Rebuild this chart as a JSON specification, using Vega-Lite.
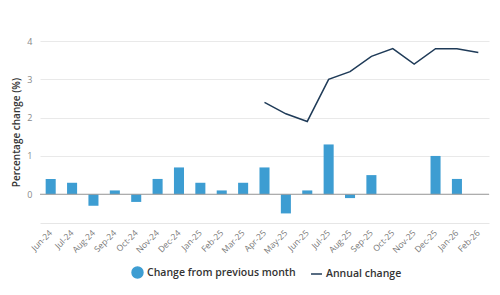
{
  "$schema": "https://vega.github.io/schema/vega-lite/v6.json",
  "width": 449,
  "height": 182,
  "autosize": {"type": "none"},
  "padding": {"left": 40, "top": 41, "right": 11, "bottom": 72},
  "background": "white",
  "config": {
    "font": "Open Sans",
    "view": {"stroke": null}
  },
  "data": {
    "values": [
      {"month": "Jun-24", "series": "Change from previous month", "value": 0.4},
      {"month": "Jul-24", "series": "Change from previous month", "value": 0.3},
      {"month": "Aug-24", "series": "Change from previous month", "value": -0.3},
      {"month": "Sep-24", "series": "Change from previous month", "value": 0.1},
      {"month": "Oct-24", "series": "Change from previous month", "value": -0.2},
      {"month": "Nov-24", "series": "Change from previous month", "value": 0.4},
      {"month": "Dec-24", "series": "Change from previous month", "value": 0.7},
      {"month": "Jan-25", "series": "Change from previous month", "value": 0.3},
      {"month": "Feb-25", "series": "Change from previous month", "value": 0.1},
      {"month": "Mar-25", "series": "Change from previous month", "value": 0.3},
      {"month": "Apr-25", "series": "Change from previous month", "value": 0.7},
      {"month": "May-25", "series": "Change from previous month", "value": -0.5},
      {"month": "Jun-25", "series": "Change from previous month", "value": 0.1},
      {"month": "Jul-25", "series": "Change from previous month", "value": 1.3},
      {"month": "Aug-25", "series": "Change from previous month", "value": -0.1},
      {"month": "Sep-25", "series": "Change from previous month", "value": 0.5},
      {"month": "Oct-25", "series": "Change from previous month", "value": 0},
      {"month": "Nov-25", "series": "Change from previous month", "value": 0},
      {"month": "Dec-25", "series": "Change from previous month", "value": 1.0},
      {"month": "Jan-26", "series": "Change from previous month", "value": 0.4},
      {"month": "Feb-26", "series": "Change from previous month", "value": 0},
      {"month": "Apr-25", "series": "Annual change", "value": 2.4},
      {"month": "May-25", "series": "Annual change", "value": 2.1},
      {"month": "Jun-25", "series": "Annual change", "value": 1.9},
      {"month": "Jul-25", "series": "Annual change", "value": 3.0},
      {"month": "Aug-25", "series": "Annual change", "value": 3.2},
      {"month": "Sep-25", "series": "Annual change", "value": 3.6},
      {"month": "Oct-25", "series": "Annual change", "value": 3.8},
      {"month": "Nov-25", "series": "Annual change", "value": 3.4},
      {"month": "Dec-25", "series": "Annual change", "value": 3.8},
      {"month": "Jan-26", "series": "Annual change", "value": 3.8},
      {"month": "Feb-26", "series": "Annual change", "value": 3.7}
    ]
  },
  "encoding": {
    "x": {
      "field": "month",
      "type": "ordinal",
      "sort": null,
      "scale": {"paddingInner": 0.53, "paddingOuter": 0.265},
      "axis": {
        "title": null,
        "labelAngle": -45,
        "labelAlign": "right",
        "labelBaseline": "middle",
        "labelColor": "#777777",
        "labelFontSize": 8.5,
        "ticks": false,
        "labelPadding": 8,
        "domain": true,
        "domainColor": "#e6e6e6",
        "grid": false
      }
    },
    "y": {
      "field": "value",
      "type": "quantitative",
      "scale": {"domain": [-0.75, 4], "nice": false, "zero": false},
      "axis": {
        "title": "Percentage change (%)",
        "titleColor": "#333333",
        "titleFontSize": 10,
        "titleFontWeight": 600,
        "titlePadding": 5,
        "values": [0, 1, 2, 3, 4],
        "labelColor": "#888888",
        "labelFontSize": 9,
        "labelPadding": 8,
        "ticks": false,
        "domain": false,
        "gridColor": "#e9e9e9"
      }
    },
    "color": {
      "field": "series",
      "type": "nominal",
      "scale": {
        "domain": ["Change from previous month", "Annual change"],
        "range": ["#3d9dd2", "#1f3b58"]
      },
      "legend": {
        "title": null,
        "orient": "none",
        "direction": "horizontal",
        "legendX": 91,
        "legendY": 225,
        "labelFontSize": 10.5,
        "labelFontWeight": 600,
        "labelColor": "#333333",
        "columnPadding": 12,
        "symbolSize": 120,
        "labelOffset": 3,
        "encode": {
          "symbols": {
            "update": {
              "shape": {"signal": "datum.value === 'Annual change' ? 'stroke' : 'circle'"},
              "fill": {"signal": "datum.value === 'Annual change' ? 'transparent' : '#3d9dd2'"},
              "stroke": {"signal": "datum.value === 'Annual change' ? '#1f3b58' : 'transparent'"},
              "strokeWidth": {"value": 1.5},
              "opacity": {"value": 1}
            }
          }
        }
      }
    }
  },
  "layer": [
    {
      "transform": [{"filter": "datum.series === 'Change from previous month'"}],
      "mark": {"type": "bar"}
    },
    {
      "data": {"values": [{"zero": 0}]},
      "mark": {"type": "rule", "color": "#999999", "strokeWidth": 1},
      "encoding": {"y": {"field": "zero", "type": "quantitative"}, "x": null, "color": null}
    },
    {
      "transform": [{"filter": "datum.series === 'Annual change'"}],
      "mark": {"type": "line", "strokeWidth": 1.5}
    }
  ]
}
